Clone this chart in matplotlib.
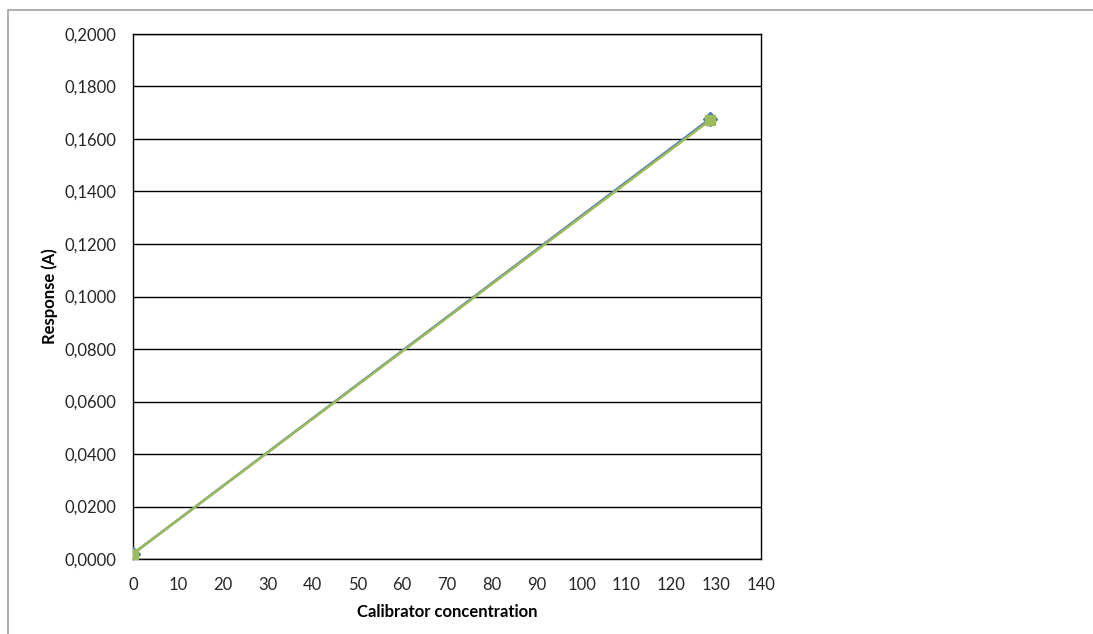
import matplotlib.pyplot as plt
from matplotlib.patches import Rectangle
from matplotlib.ticker import FuncFormatter, MultipleLocator

# calibration points
conc = [0, 128.6]
resp_blue = [0.0020, 0.1676]
resp_green = [0.0020, 0.1671]

plt.rcParams['font.family'] = ['Lato', 'DejaVu Sans']

fig = plt.figure(figsize=(10.93, 6.34), dpi=100)
ax = fig.add_axes([133 / 1093, 1 - 559 / 634, (761 - 133) / 1093, (559 - 34) / 634])

# outer chart border (open to the right/bottom like the crop)
fig.patches.append(Rectangle((8 / 1093, -0.1), 1.2, 1 - 10 / 634 + 0.1,
                             transform=fig.transFigure, fill=False,
                             edgecolor='#a0a0a0', linewidth=1.2))

ax.plot(conc, resp_blue, color='#4472C4', linewidth=1.8, marker='D',
        markersize=7, zorder=3)
ax.plot(conc, resp_green, color='#9BBB59', linewidth=1.8, marker='s',
        markersize=7, zorder=4)

ax.set_xlim(0, 140)
ax.set_ylim(0, 0.2)
ax.xaxis.set_major_locator(MultipleLocator(10))
ax.yaxis.set_major_locator(MultipleLocator(0.02))
ax.yaxis.set_major_formatter(FuncFormatter(lambda v, p: f'{v:.4f}'.replace('.', ',')))
ax.grid(True, axis='y', color='black', linewidth=1.0)
ax.set_axisbelow(True)
for s in ax.spines.values():
    s.set_color('black')
    s.set_linewidth(1.0)
ax.tick_params(length=0, labelsize=12, colors='#262626')
ax.tick_params(axis='x', pad=13)
ax.tick_params(axis='y', pad=12)

ax.set_xlabel('Calibrator concentration', fontsize=12, fontweight='bold', labelpad=8)
ax.set_ylabel('Response (A)', fontsize=12, fontweight='bold', labelpad=5)

fig.savefig('out.png', dpi=100)
